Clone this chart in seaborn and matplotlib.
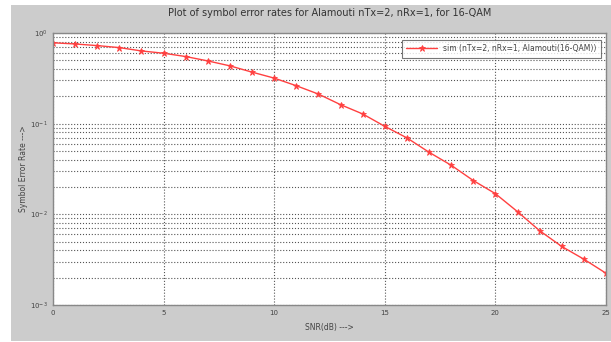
import numpy as np
import pandas as pd
import matplotlib
matplotlib.use("Agg")
import matplotlib.pyplot as plt
import matplotlib.ticker as mticker
import seaborn as sns

snr_db = list(range(26))
ser = [0.78, 0.757, 0.726, 0.69, 0.634, 0.598, 0.55, 0.492, 0.434, 0.37,
       0.318, 0.262, 0.212, 0.162, 0.128, 0.0934, 0.0697, 0.0484, 0.0348,
       0.0236, 0.0169, 0.0107, 0.0066, 0.00442, 0.0032, 0.00224]
label = "sim (nTx=2, nRx=1, Alamouti(16-QAM))"
x_ticks = [0, 5, 10, 15, 20, 25]

df = pd.DataFrame({"snr": snr_db, "ser": ser})

sns.set_style("white")
plt.rcParams['font.family'] = ['DejaVu Sans']

fig = plt.figure(figsize=(6.11, 3.42), dpi=100)
fig.patch.set_facecolor("white")
bg = plt.Rectangle((11 / 611, 1 / 342), 600 / 611, 336 / 342,
                   transform=fig.transFigure, facecolor="#cccccc",
                   edgecolor="none", zorder=-10)
fig.patches.append(bg)

ax = fig.add_axes([53 / 611, 37 / 342, 553 / 611, 272 / 342])
ax.set_facecolor("white")

red = "#ff4040"
sns.lineplot(data=df, x="snr", y="ser", ax=ax, color=red, linewidth=1.0,
             marker="*", markersize=4.5, markeredgewidth=0.6,
             markeredgecolor=red, markerfacecolor=red, label=label)

ax.set_yscale("log")
ax.set_xlim(0, 25)
ax.set_ylim(1e-3, 1e0)
ax.set_xticks(x_ticks)
ax.yaxis.set_major_locator(mticker.LogLocator(base=10, numticks=10))
ax.yaxis.set_minor_locator(mticker.LogLocator(base=10, subs=np.arange(2, 10), numticks=10))
ax.yaxis.set_minor_formatter(mticker.NullFormatter())

ax.grid(True, which="major", axis="both", linestyle=":", color="#555555", linewidth=0.8)
ax.grid(True, which="minor", axis="y", linestyle=":", color="#555555", linewidth=0.8)

ax.tick_params(axis="both", which="major", labelsize=5, colors="#444444",
               direction="in", length=3, width=0.6)
ax.tick_params(axis="y", which="minor", direction="in", length=1.5, width=0.5)
for side in ax.spines.values():
    side.set_color("#888888")
    side.set_linewidth(1.0)

ax.set_title("Plot of symbol error rates for Alamouti nTx=2, nRx=1, for 16-QAM",
             fontsize=7, color="#333333", pad=12)
ax.set_xlabel("SNR(dB) --->", fontsize=5.5, color="#444444", labelpad=5)
ax.set_ylabel("Symbol Error Rate --->", fontsize=5.5, color="#444444", labelpad=2)

leg = ax.legend(loc="upper right", fontsize=5.5, frameon=True, fancybox=False,
                handlelength=4, borderpad=0.6, bbox_to_anchor=(0.998, 0.99))
leg.get_frame().set_edgecolor("#555555")
leg.get_frame().set_linewidth(0.8)
for t in leg.get_texts():
    t.set_color("#444444")

fig.savefig("out.png", dpi=100, facecolor=fig.get_facecolor())
plt.close(fig)
